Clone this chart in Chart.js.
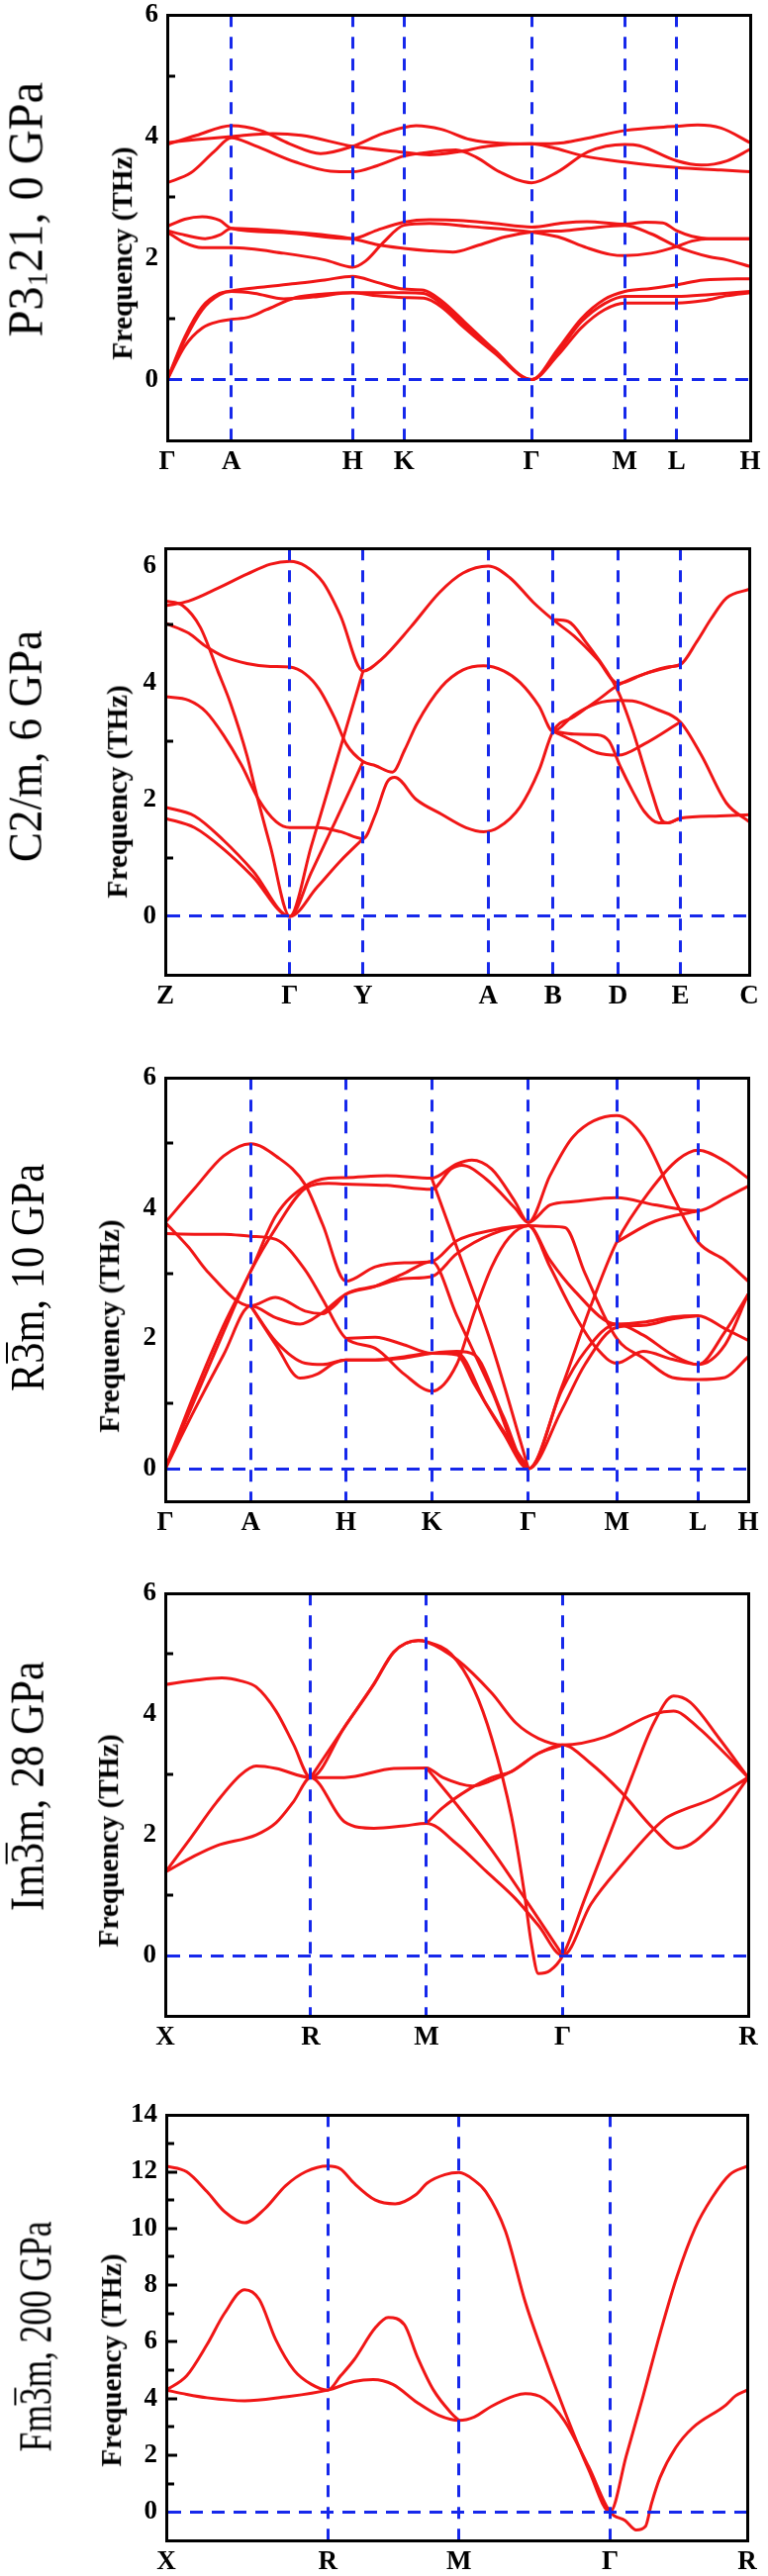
<!DOCTYPE html>
<html><head><meta charset="utf-8">
<script src="https://cdn.jsdelivr.net/npm/chart.js@4.4.0/dist/chart.umd.min.js"></script>
<style>
html,body{margin:0;padding:0;background:#fff;}
body{position:relative;width:776px;height:2603px;overflow:hidden;}
canvas{position:absolute;left:0;}
.rt{position:absolute;white-space:nowrap;font-family:'Liberation Serif','Times New Roman',serif;color:#000;line-height:1;transform-origin:50% 50%;}
.ov{display:inline-block;line-height:0.72em;border-top:2.5px solid #000;padding-top:0.07em;}
sub{font-size:0.6em;vertical-align:-0.15em;}
</style></head><body>
<script>
// ---------------- DATA ----------------
const p1Kpos = [0, 0.110, 0.318, 0.406, 0.625, 0.785, 0.874, 1];
const p1Klabels = ['Γ','A','H','K','Γ','M','L','H'];
const p1YTicks = [0,2,4,6];
const p1Bands = [
 [[0,0],[0.03,0.55],[0.06,0.85],[0.09,0.96],[0.11,0.99],[0.14,1.03],[0.17,1.15],[0.22,1.35],[0.27,1.41],[0.318,1.43],[0.36,1.38],[0.406,1.35],[0.44,1.34],[0.47,1.2],[0.51,0.85],[0.56,0.45],[0.625,0],[0.67,0.4],[0.71,0.85],[0.75,1.15],[0.785,1.26],[0.83,1.26],[0.874,1.26],[0.92,1.3],[0.96,1.38],[1,1.43]],
 [[0,0],[0.03,0.65],[0.06,1.15],[0.09,1.4],[0.11,1.45],[0.15,1.42],[0.2,1.33],[0.25,1.36],[0.318,1.43],[0.36,1.43],[0.406,1.43],[0.44,1.42],[0.47,1.25],[0.51,0.9],[0.56,0.48],[0.625,0],[0.67,0.45],[0.71,0.95],[0.75,1.25],[0.785,1.37],[0.83,1.37],[0.874,1.37],[0.93,1.4],[1,1.45]],
 [[0,0],[0.03,0.7],[0.06,1.2],[0.09,1.42],[0.11,1.46],[0.16,1.52],[0.22,1.58],[0.27,1.64],[0.318,1.70],[0.36,1.6],[0.406,1.49],[0.44,1.47],[0.47,1.3],[0.51,0.95],[0.56,0.5],[0.625,0],[0.67,0.5],[0.71,1.0],[0.75,1.32],[0.785,1.45],[0.83,1.5],[0.874,1.56],[0.92,1.64],[1,1.66]],
 [[0,2.52],[0.03,2.64],[0.06,2.68],[0.09,2.62],[0.11,2.49],[0.2,2.42],[0.318,2.32],[0.36,2.46],[0.406,2.59],[0.45,2.63],[0.5,2.62],[0.56,2.57],[0.625,2.51],[0.68,2.58],[0.72,2.6],[0.785,2.56],[0.82,2.59],[0.85,2.58],[0.874,2.45],[0.9,2.36],[0.93,2.32],[1,2.32]],
 [[0,2.45],[0.03,2.38],[0.065,2.32],[0.09,2.38],[0.11,2.49],[0.2,2.44],[0.318,2.32],[0.36,2.22],[0.406,2.16],[0.45,2.12],[0.49,2.1],[0.53,2.2],[0.58,2.35],[0.625,2.43],[0.68,2.45],[0.72,2.49],[0.785,2.54],[0.83,2.4],[0.874,2.19],[0.9,2.1],[0.93,2.02],[0.96,1.97],[1,1.86]],
 [[0,2.43],[0.03,2.25],[0.06,2.17],[0.11,2.17],[0.2,2.08],[0.27,1.97],[0.318,1.85],[0.34,1.95],[0.37,2.25],[0.406,2.54],[0.45,2.57],[0.52,2.52],[0.625,2.43],[0.67,2.35],[0.72,2.17],[0.76,2.06],[0.785,2.04],[0.83,2.08],[0.874,2.19],[0.9,2.28],[0.93,2.32],[1,2.32]],
 [[0,3.87],[0.05,4.02],[0.11,4.18],[0.16,4.1],[0.21,3.88],[0.263,3.72],[0.318,3.84],[0.37,4.05],[0.427,4.18],[0.47,4.12],[0.52,3.95],[0.57,3.89],[0.625,3.88],[0.68,3.9],[0.72,3.97],[0.785,4.1],[0.874,4.17],[0.91,4.19],[0.95,4.14],[1,3.9]],
 [[0,3.9],[0.05,3.95],[0.11,4.0],[0.18,4.05],[0.23,4.02],[0.318,3.84],[0.406,3.74],[0.45,3.7],[0.5,3.75],[0.55,3.84],[0.625,3.88],[0.66,3.82],[0.714,3.68],[0.785,3.58],[0.874,3.49],[0.95,3.45],[1,3.42]],
 [[0,3.24],[0.04,3.4],[0.08,3.75],[0.11,3.98],[0.15,3.85],[0.22,3.58],[0.28,3.43],[0.318,3.42],[0.36,3.52],[0.406,3.68],[0.44,3.73],[0.495,3.78],[0.53,3.66],[0.57,3.42],[0.625,3.24],[0.67,3.42],[0.722,3.75],[0.785,3.87],[0.81,3.85],[0.874,3.6],[0.916,3.53],[0.96,3.6],[1,3.79]]
];

const p2Kpos = [0, 0.2134, 0.3387, 0.553, 0.664, 0.7756, 0.882, 1];
const p2Klabels = ['Z','Γ','Y','A','B','D','E','C'];
const p2YTicks = [0,2,4,6];
const p2Bands = [
 [[0,5.32],[0.04,5.4],[0.09,5.62],[0.14,5.86],[0.18,6.03],[0.2134,6.08],[0.24,6.0],[0.27,5.72],[0.3,5.15],[0.3387,4.2],[0.37,4.4],[0.42,4.95],[0.47,5.55],[0.51,5.88],[0.553,6.0],[0.59,5.8],[0.63,5.38],[0.664,5.08],[0.7,4.8],[0.74,4.4],[0.7756,3.99],[0.82,4.15],[0.86,4.27],[0.882,4.31],[0.91,4.7],[0.935,5.1],[0.961,5.45],[1,5.6]],
 [[0,5.40],[0.03,5.32],[0.06,4.95],[0.09,4.2],[0.112,3.64],[0.14,2.75],[0.154,2.18],[0.18,1.2],[0.2134,0],[0.25,1.2],[0.29,2.55],[0.3387,4.2]],
 [[0,5.02],[0.04,4.85],[0.07,4.62],[0.1,4.45],[0.14,4.33],[0.18,4.28],[0.2134,4.27],[0.24,4.15],[0.263,3.9],[0.29,3.4],[0.31,2.95],[0.3387,2.65],[0.36,2.58],[0.389,2.47],[0.41,2.85],[0.431,3.3],[0.473,3.93],[0.51,4.22],[0.545,4.29],[0.58,4.2],[0.608,4.0],[0.64,3.6],[0.664,3.17],[0.7,3.45],[0.74,3.65],[0.7756,3.7],[0.8,3.69],[0.84,3.55],[0.882,3.33],[0.918,2.76],[0.961,1.94],[1,1.62]],
 [[0,3.76],[0.04,3.7],[0.07,3.5],[0.1,3.1],[0.13,2.6],[0.16,2.0],[0.19,1.62],[0.2134,1.52],[0.26,1.52],[0.3,1.45],[0.3387,1.33],[0.36,1.75],[0.38,2.3],[0.393,2.38],[0.43,2.0],[0.473,1.75],[0.515,1.52],[0.545,1.45],[0.57,1.52],[0.608,1.88],[0.64,2.5],[0.664,3.17],[0.7,3.42],[0.74,3.7],[0.7756,3.96],[0.82,4.15],[0.882,4.31]],
 [[0,1.87],[0.05,1.72],[0.1,1.3],[0.15,0.78],[0.2134,0],[0.25,0.75],[0.29,1.6],[0.3387,2.65]],
 [[0,1.68],[0.05,1.52],[0.1,1.15],[0.15,0.68],[0.2134,0],[0.26,0.5],[0.3,0.95],[0.3387,1.33]],
 [[0.664,5.08],[0.69,5.05],[0.72,4.7],[0.7756,3.85],[0.8,3.2],[0.82,2.55],[0.834,2.1],[0.85,1.65],[0.86,1.6],[0.882,1.68],[0.95,1.72],[1,1.74]],
 [[0.664,3.17],[0.7,3.12],[0.74,3.11],[0.76,3.0],[0.78,2.55],[0.8,2.15],[0.82,1.8],[0.845,1.6],[0.86,1.6],[0.882,1.68]],
 [[0.664,3.17],[0.7,3.0],[0.74,2.8],[0.7756,2.76],[0.82,2.95],[0.882,3.33]]
];

const p3Kpos = [0, 0.1465, 0.3098, 0.457, 0.623, 0.7744, 0.914, 1];
const p3Klabels = ['Γ','A','H','K','Γ','M','L','H'];
const p3YTicks = [0,2,4,6];
const p3Bands = [
 [[0,3.78],[0.05,4.3],[0.1,4.8],[0.1465,4.99],[0.19,4.8],[0.24,4.36],[0.27,3.75],[0.3098,2.88],[0.36,3.1],[0.41,3.16],[0.457,3.18],[0.5,3.5],[0.56,3.66],[0.623,3.73],[0.66,3.2],[0.7,2.75],[0.7744,2.22],[0.82,2.25],[0.87,2.33],[0.914,2.35],[0.96,2.15],[1,1.97]],
 [[0,3.61],[0.05,3.6],[0.1,3.6],[0.1465,3.57],[0.19,3.52],[0.24,3.05],[0.27,2.6],[0.3098,2.0],[0.36,1.85],[0.41,1.45],[0.457,1.19],[0.5,1.6],[0.53,2.4],[0.56,3.1],[0.59,3.55],[0.623,3.73],[0.66,3.1],[0.7,2.4],[0.74,1.85],[0.7744,1.62],[0.82,1.8],[0.87,1.68],[0.914,1.6],[0.96,2.1],[1,2.68]],
 [[0,0],[0.05,1.15],[0.1,2.2],[0.1465,3.03],[0.19,3.89],[0.24,4.34],[0.28,4.46],[0.3098,4.47],[0.38,4.5],[0.457,4.46],[0.5,4.68],[0.526,4.74],[0.56,4.6],[0.6,4.1],[0.623,3.78],[0.66,4.5],[0.7,5.1],[0.7744,5.42],[0.82,5.1],[0.87,4.2],[0.914,3.48],[0.96,3.2],[1,2.88]],
 [[0,0],[0.05,1.05],[0.1,2.1],[0.1465,3.03],[0.19,3.7],[0.24,4.3],[0.28,4.38],[0.3098,4.37],[0.38,4.35],[0.457,4.29],[0.49,4.6],[0.509,4.66],[0.55,4.45],[0.6,4.0],[0.623,3.78],[0.66,4.05],[0.7,4.1],[0.7744,4.16],[0.84,4.05],[0.914,3.96],[0.96,4.15],[1,4.34]],
 [[0,3.78],[0.04,3.4],[0.072,3.03],[0.1465,2.5],[0.189,2.63],[0.24,2.42],[0.27,2.38],[0.29,2.5],[0.3098,2.68],[0.36,2.8],[0.41,2.92],[0.457,2.95],[0.5,3.3],[0.56,3.6],[0.623,3.73],[0.66,3.72],[0.686,3.7],[0.72,3.0],[0.7744,2.0],[0.82,1.7],[0.87,1.4],[0.914,1.37],[0.96,1.4],[1,1.72]],
 [[0,0],[0.05,0.9],[0.1,1.75],[0.1465,2.5],[0.189,2.32],[0.231,2.22],[0.27,2.4],[0.3098,2.68],[0.36,2.8],[0.41,3.0],[0.457,3.18],[0.5,2.35],[0.56,1.2],[0.623,0],[0.68,1.25],[0.73,2.5],[0.7744,3.48],[0.83,4.25],[0.88,4.75],[0.914,4.89],[0.96,4.72],[1,4.46]],
 [[0.1465,2.5],[0.19,1.9],[0.231,1.39],[0.26,1.45],[0.29,1.62],[0.3098,1.67],[0.36,1.67],[0.41,1.72],[0.457,1.77],[0.5,1.75],[0.53,1.3],[0.58,0.55],[0.623,0],[0.68,0.9],[0.72,1.6],[0.7744,2.17],[0.82,2.2],[0.87,2.3],[0.914,2.35]],
 [[0.1465,2.5],[0.19,1.95],[0.24,1.62],[0.27,1.6],[0.3098,1.67],[0.36,1.67],[0.41,1.7],[0.457,1.77],[0.5,1.8],[0.53,1.75],[0.58,0.8],[0.623,0],[0.68,1.2],[0.72,1.8],[0.7744,2.22],[0.82,2.05],[0.87,1.75],[0.914,1.6],[0.96,1.9],[1,2.68]],
 [[0.3098,2.0],[0.36,2.02],[0.41,1.9],[0.457,1.77],[0.5,1.78],[0.55,1.0],[0.623,0]],
 [[0.457,4.46],[0.5,3.4],[0.56,1.9],[0.623,0]],
 [[0.7744,3.48],[0.84,3.8],[0.914,3.96]]
];

const p4Kpos = [0, 0.2494, 0.448, 0.682, 1];
const p4Klabels = ['X','R','M','Γ','R'];
const p4YTicks = [0,2,4,6];
const p4Bands = [
 [[0,4.49],[0.05,4.56],[0.097,4.6],[0.13,4.55],[0.156,4.45],[0.19,4.05],[0.22,3.5],[0.2494,2.95],[0.307,3.78],[0.358,4.5],[0.392,5.03],[0.434,5.22],[0.448,5.2],[0.501,4.9],[0.56,4.35],[0.602,3.85],[0.64,3.6],[0.682,3.49],[0.754,3.62],[0.838,4.0],[0.872,4.05],[0.914,3.78],[0.96,3.35],[1,2.95]],
 [[0.2494,2.95],[0.307,3.78],[0.358,4.5],[0.392,5.03],[0.434,5.22],[0.448,5.2],[0.49,5.0],[0.53,4.4],[0.56,3.6],[0.594,2.3],[0.615,1.1],[0.628,0.2],[0.64,-0.3],[0.66,-0.25],[0.682,0],[0.72,0.95],[0.76,1.95],[0.8,2.95],[0.838,3.85],[0.872,4.3],[0.9,4.2],[0.95,3.6],[1,2.95]],
 [[0,1.38],[0.04,1.9],[0.088,2.54],[0.13,3.0],[0.156,3.14],[0.19,3.1],[0.2494,2.95],[0.307,2.95],[0.392,3.1],[0.448,3.11],[0.476,2.95],[0.527,2.81],[0.56,2.9],[0.594,3.05],[0.64,3.35],[0.682,3.49],[0.729,3.19],[0.783,2.7],[0.838,2.1],[0.88,1.78],[0.939,2.16],[1,2.95]],
 [[0,1.38],[0.05,1.65],[0.088,1.82],[0.156,2.0],[0.19,2.2],[0.22,2.55],[0.2494,2.95],[0.307,2.22],[0.358,2.11],[0.41,2.15],[0.448,2.19],[0.5,1.85],[0.55,1.4],[0.6,0.95],[0.64,0.5],[0.682,0],[0.73,0.85],[0.783,1.5],[0.855,2.25],[0.88,2.38],[0.939,2.6],[1,2.95]],
 [[0.448,3.11],[0.5,2.5],[0.56,1.75],[0.62,0.9],[0.682,0]],
 [[0.448,2.19],[0.476,2.45],[0.52,2.75],[0.56,2.95],[0.594,3.05],[0.64,3.35],[0.682,3.49]]
];

const p5Kpos = [0, 0.278, 0.504, 0.764, 1];
const p5Klabels = ['X','R','M','Γ','R'];
const p5YTicks = [0,2,4,6,8,10,12,14];
const p5Bands = [
 [[0,12.2],[0.035,12.0],[0.07,11.3],[0.1,10.6],[0.135,10.2],[0.17,10.7],[0.205,11.5],[0.24,12.0],[0.278,12.2],[0.3,12.1],[0.323,11.6],[0.36,11.0],[0.394,10.87],[0.43,11.2],[0.449,11.6],[0.48,11.9],[0.504,11.97],[0.53,11.7],[0.55,11.3],[0.584,9.9],[0.618,7.4],[0.643,5.9],[0.685,3.6],[0.727,1.5],[0.764,0],[0.792,2.0],[0.821,4.1],[0.85,6.3],[0.879,8.3],[0.91,10.0],[0.94,11.1],[0.97,11.9],[1,12.2]],
 [[0,4.3],[0.035,4.8],[0.07,5.9],[0.1,7.0],[0.135,7.84],[0.16,7.5],[0.188,6.1],[0.22,5.0],[0.25,4.5],[0.278,4.3],[0.3,4.8],[0.323,5.36],[0.36,6.5],[0.382,6.86],[0.41,6.6],[0.432,5.48],[0.46,4.3],[0.491,3.48],[0.504,3.23]],
 [[0,4.3],[0.035,4.15],[0.07,4.03],[0.135,3.92],[0.2,4.05],[0.278,4.3],[0.323,4.6],[0.356,4.67],[0.39,4.5],[0.432,3.86],[0.47,3.4],[0.504,3.23],[0.53,3.35],[0.56,3.73],[0.6,4.1],[0.618,4.17],[0.65,4.0],[0.685,3.23],[0.727,1.6],[0.764,0],[0.79,-0.3],[0.809,-0.63],[0.825,-0.5],[0.835,0.28],[0.85,1.22],[0.877,2.27],[0.906,2.97],[0.963,3.77],[0.98,4.1],[1,4.3]]
];

// ---------------- LAYOUT ----------------
const RED = 'rgb(240,22,22)';
const BLUE = 'rgb(22,40,235)';
const FONT = "'Liberation Serif','Times New Roman',serif";

const panels = [
 {kpos:p1Kpos, klabels:p1Klabels, yTicks:p1YTicks, bands:p1Bands, yMin:-1, yMax:6, box:[169,758,15,445], minor:[1,3,5], major:[]},
 {kpos:p2Kpos, klabels:p2Klabels, yTicks:p2YTicks, bands:p2Bands, yMin:-1, yMax:6.3, box:[167,757,554,985], minor:[1,3,5], major:[]},
 {kpos:p3Kpos, klabels:p3Klabels, yTicks:p3YTicks, bands:p3Bands, yMin:-0.5, yMax:6, box:[167,756,1089,1517], minor:[1,3,5], major:[]},
 {kpos:p4Kpos, klabels:p4Klabels, yTicks:p4YTicks, bands:p4Bands, yMin:-1, yMax:6, box:[167,756,1610,2037], minor:[1,3,5], major:[]},
 {kpos:p5Kpos, klabels:p5Klabels, yTicks:p5YTicks, bands:p5Bands, yMin:-1, yMax:14, box:[168,755,2137,2567], minor:[1,3,5,7,9,11,13], major:[2,4,6,8,10,12]}
];

const innerTicks = {
  id:'innerTicks',
  afterDraw(chart, args, opts){
    const y = chart.scales.y, a = chart.chartArea, ctx = chart.ctx;
    ctx.save(); ctx.strokeStyle = '#000'; ctx.lineWidth = 3;
    const draw = (v, len) => { const py = Math.round(y.getPixelForValue(v)); ctx.beginPath(); ctx.moveTo(a.left, py); ctx.lineTo(a.left + len, py); ctx.stroke(); };
    (opts.minor||[]).forEach(v => draw(v, 8));
    (opts.major||[]).forEach(v => draw(v, 11));
    ctx.restore();
  }
};

function makeChart(p){
  const [L,R,T,B] = p.box;
  const padTop = 25, xAxisH = 52;
  const cv = document.createElement('canvas');
  cv.width = 776; cv.height = (B - T) + padTop + xAxisH;
  cv.style.top = (T - padTop) + 'px';
  document.body.appendChild(cv);
  const n = p.kpos.length;
  new Chart(cv.getContext('2d'), {
    type:'line',
    data:{ datasets: p.bands.map(b => ({
      data: b.map(([x,y]) => ({x, y})),
      borderColor: RED, borderWidth: 3, pointRadius: 0, fill: false,
      cubicInterpolationMode: 'monotone'
    }))},
    options:{
      responsive:false, animation:false, devicePixelRatio:1, events:[],
      layout:{padding:{left:0, right:776 - R, top:padTop, bottom:0}},
      plugins:{legend:{display:false}, tooltip:{enabled:false}, innerTicks:{minor:p.minor, major:p.major}},
      scales:{
        x:{type:'linear', position:'bottom', min:0, max:1,
           afterBuildTicks: s => { s.ticks = p.kpos.map(v => ({value:v})); },
           afterFit: s => { s.height = xAxisH; },
           ticks:{autoSkip:false, maxRotation:0, minRotation:0, padding:6, color:'#000',
                  font:{family:FONT, size:27, weight:'bold'}, callback:(v,i) => p.klabels[i]},
           grid:{drawTicks:false, lineWidth:3, z:1,
                 color: c => (c.index > 0 && c.index < n - 1) ? BLUE : 'rgba(0,0,0,0)'},
           border:{display:true, color:'#000', width:3, dash:[12,10], z:2}},
        y:{type:'linear', position:'left', min:p.yMin, max:p.yMax,
           afterBuildTicks: s => { s.ticks = p.yTicks.map(v => ({value:v})); },
           afterFit: s => { s.width = L; },
           ticks:{padding:9, color:'#000', font:{family:FONT, size:27, weight:'bold'}, callback: v => String(v)},
           grid:{drawTicks:false, lineWidth:3, z:1,
                 color: c => (c.tick && c.tick.value === 0) ? BLUE : 'rgba(0,0,0,0)'},
           border:{display:true, color:'#000', width:3, dash:[13,9], z:2}},
        xTop:{type:'linear', position:'top', display:true, ticks:{display:false},
              grid:{display:false, drawTicks:false}, border:{display:true, color:'#000', width:3, z:2},
              afterFit: s => { s.height = 0; }},
        yRight:{type:'linear', position:'right', display:true, ticks:{display:false},
              grid:{display:false, drawTicks:false}, border:{display:true, color:'#000', width:3, z:2},
              afterFit: s => { s.width = 0; }}
      }
    },
    plugins:[innerTicks]
  });
}
panels.forEach(makeChart);

// ---------------- TEXT LABELS ----------------
function rotLabel(html, cx, cy, size, weight, len){
  const d = document.createElement('div');
  d.className = 'rt';
  d.innerHTML = html;
  d.style.fontSize = size + 'px';
  d.style.fontWeight = weight;
  document.body.appendChild(d);
  const w = d.offsetWidth, h = d.offsetHeight;
  d.style.left = (cx - w/2) + 'px';
  d.style.top = (cy - h/2) + 'px';
  d.style.transform = 'rotate(-90deg) scaleX(' + (len / w).toFixed(3) + ')';
}
const panelTitles = [
 ['P3<sub>1</sub>21, 0 GPa', 26, 212, 50, 257],
 ['C2/m, 6 GPa', 25, 754, 48, 234],
 ['R<span class="ov">3</span>m, 10 GPa', 28, 1291, 48, 230],
 ['Im<span class="ov">3</span>m, 28 GPa', 27, 1805, 48, 252],
 ['Fm<span class="ov">3</span>m, 200 GPa', 36, 2361, 46, 233]
];
panelTitles.forEach(t => rotLabel(t[0], t[1], t[2], t[3], 'normal', t[4]));
const freqTitles = [[123,256],[118,800],[110,1340],[109,1860],[112,2385]];
freqTitles.forEach(t => rotLabel('Frequency (THz)', t[0], t[1], 30, 'bold', 215));
</script>
</body></html>
